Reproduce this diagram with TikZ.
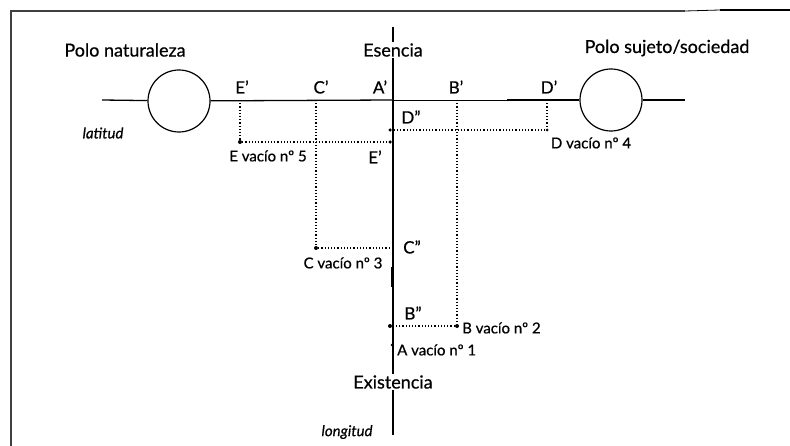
\documentclass[tikz,border=0pt]{standalone}
\usepackage{fontspec}
\setmainfont{Lato}[UprightFeatures={FakeBold=0.6},ItalicFeatures={FakeBold=0.6}]
\usetikzlibrary{calc}
\tikzset{
    pole/.style = {draw, circle, 
        minimum size=62pt, 
        inner sep=0pt, line width=1.2pt},
    axisline/.style = {line width=1.3pt},
    proj/.style = {dotted, line width=1.2pt},
    big/.style = {font=\fontsize{18}{18}\selectfont, inner sep=1pt},
    lbl/.style = {font=\fontsize{15}{15}\selectfont, inner sep=1pt},
    plbl/.style = {font=\fontsize{17}{17}\selectfont, inner sep=1pt},
    pt/.style = {circle, fill, inner sep=0pt, minimum size=4pt}
}

\begin{document}
\begin{tikzpicture}[x=1pt,y=-1pt]
            \useasboundingbox (0,0) rectangle (790,446);
            % frame
            \draw[line width=1.6pt, black!75] (11,446) -- (11,11) -- (685,11);
            \draw[line width=.8pt] (685,11) -- (720,10);
            \draw[line width=1.6pt] (720,10) -- (790,10);
            % poles and latitude axis
            \node[pole] (natur) at (179,101) {};
            \node[pole] (socied) at (611,100) {};
            \coordinate (lend) at (102,100);
            \coordinate (rend) at (685,100);
            \coordinate (orig) at (393,100);
            \coordinate (mid) at (507,100);
            \draw[axisline] (lend) -- (natur);
            \draw[axisline] (natur) -- (orig);
            \draw[line width=.9pt] (orig) -- (mid);
            \draw[axisline] (mid) -- (socied);
            \draw[axisline] (socied) -- (rend);
            % longitude axis
            \node[big] (esencia) at (393,50) {Esencia};
            \node[big] (existencia) at (393,382) {Existencia};
            \coordinate (ltop) at (393,27);
            \coordinate (lbot) at (393,435);
            \draw[axisline] (ltop) -- (esencia.north);
            \draw[axisline] (esencia.south) -- (existencia.north);
            \draw[axisline] (existencia.south) -- (lbot);
            \draw[line width=2.6pt] (392,267) -- (392,287);
            % points on latitude
            \coordinate (Ep) at (240,100);
            \coordinate (Cp) at (316,100);
            \coordinate (Bp) at (457,100);
            \coordinate (Dp) at (547,100);
            % empties
            \node[pt] (E) at (240,142) {};
            \node[pt] (C) at (316,248) {};
            \node[pt] (B) at (457,326) {};
            \node[pt, minimum size=3pt] (D) at (547,130) {};
            \node[pt, minimum size=3pt] (A) at (392,345) {};
            % projections on longitude
            \node[pt, minimum size=3.5pt] (Epp) at (390,142) {};
            \coordinate (Cpp) at (390,248);
            \node[pt] (Bpp) at (390,326) {};
            \node[pt, minimum size=3.5pt] (Dpp) at (390,130) {};
            % dotted projections
            \draw[proj] (Ep) -- (E) -- (Epp);
            \draw[proj] (Cp) -- (C) -- (Cpp);
            \draw[proj] (Bp) -- (B) -- (Bpp);
            \draw[proj] (Dp) -- (D) -- (Dpp);
            % labels
            \node[plbl] (lEp) at (242,87) {E’};
            \node[plbl] (lCp) at (321,87) {C’};
            \node[plbl] (lAp) at (380,87) {A’};
            \node[plbl] (lBp) at (456,87) {B’};
            \node[plbl] (lDp) at (549,87) {D’};
            \node[plbl] (lDpp) at (411,117) {D”};
            \node[plbl] (lEpp) at (375,157) {E’};
            \node[plbl] (lCpp) at (412,247) {C”};
            \node[plbl] (lBpp) at (413,313) {B”};
            \node[lbl] (lE) at (268,156) {E vacío nº 5};
            \node[lbl] (lD) at (591,143) {D vacío nº 4};
            \node[lbl] (lC) at (343,263) {C vacío nº 3};
            \node[lbl, anchor=west] (lB) at (461,328) {B vacío nº 2};
            \node[lbl, anchor=west] (lA) at (396,350) {A vacío nº 1};
            \node[big] (lnatur) at (125,50) {Polo naturaleza};
            \node[big] (lsocied) at (667,48) {Polo sujeto/sociedad};
            \node[lbl, font=\fontsize{15}{15}\selectfont\itshape] (lat) at (103,133) {latitud};
            \node[lbl, font=\fontsize{15}{15}\selectfont\itshape] (lon) at (347,432) {longitud};
            \end{tikzpicture}
\end{document}
